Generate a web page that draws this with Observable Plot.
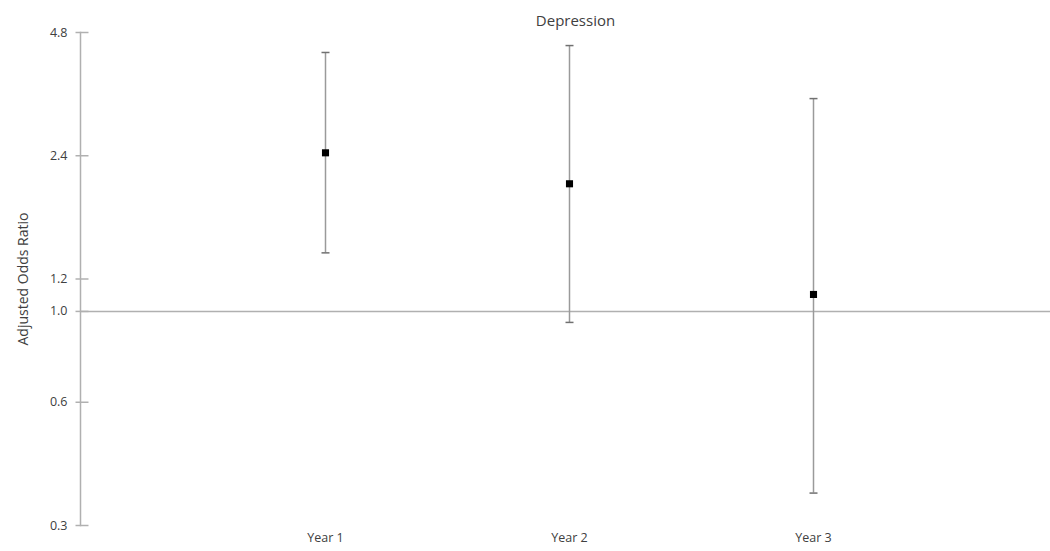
<!DOCTYPE html>
<html>
<head>
<meta charset="utf-8">
<script src="https://cdn.jsdelivr.net/npm/d3@7"></script>
<script src="https://cdn.jsdelivr.net/npm/@observablehq/plot@0.6"></script>
<style>
  html, body { margin: 0; padding: 0; background: #fff; }
  #chart svg { display: block; }
</style>
</head>
<body>
<div id="chart"></div>
<script>
// Data
const years = ["Year 1", "Year 2", "Year 3"];
const oddsRatio = [2.44, 2.05, 1.10];
const lowerCI = [1.39, 0.94, 0.36];
const upperCI = [4.29, 4.46, 3.31];
const yTickValues = [0.3, 0.6, 1.0, 1.2, 2.4, 4.8];
const titleText = "Depression";
const yLabel = "Adjusted Odds Ratio";

const rows = years.map((y, i) => ({year: y, or: oddsRatio[i], lo: lowerCI[i], hi: upperCI[i]}));

// horizontal cap symbol
const capSymbol = {
  draw(ctx, size) {
    const r = Math.sqrt(size / Math.PI);
    ctx.moveTo(-r, 0);
    ctx.lineTo(r, 0);
  }
};
// y-axis tick that crosses the axis line
const axisTickSymbol = {
  draw(ctx, size) {
    ctx.moveTo(-5, 0);
    ctx.lineTo(8, 0);
  }
};

const chart = Plot.plot({
  width: 1050,
  height: 551,
  marginLeft: 80,
  marginRight: 0,
  marginTop: 32,
  marginBottom: 26,
  style: {fontFamily: "'Open Sans', sans-serif", fontSize: "12px", color: "#404040", background: "#fff"},
  x: {type: "point", domain: years, padding: 1, range: [81, 1057]},
  y: {type: "log", domain: [0.3, 4.8]},
  marks: [
    Plot.ruleY([1], {stroke: "#b0b0b0", strokeWidth: 1.5}),
    Plot.frame({anchor: "left", stroke: "#b0b0b0", strokeWidth: 1.5}),
    Plot.dot(yTickValues, {y: d => d, frameAnchor: "left", symbol: axisTickSymbol, r: 1, stroke: "#b0b0b0", strokeWidth: 1.5}),
    Plot.axisY({
      ticks: yTickValues, tickFormat: d3.format(".1f"), tickSize: 0, tickPadding: 13,
      label: null, fontSize: 12.5
    }),
    Plot.axisY({
      ticks: [], tickSize: 0,
      label: yLabel, labelAnchor: "center", labelOffset: 62, labelArrow: false,
      fontSize: 14
    }),
    Plot.axisX({tickSize: 0, tickPadding: 8, label: null, fontSize: 12.5}),
    Plot.ruleX(rows, {x: "year", y1: "lo", y2: "hi", stroke: "#9a9a9a", strokeWidth: 1.5}),
    Plot.dot(rows, {x: "year", y: "hi", symbol: capSymbol, r: 4, stroke: "#707070", strokeWidth: 1.5}),
    Plot.dot(rows, {x: "year", y: "lo", symbol: capSymbol, r: 4, stroke: "#707070", strokeWidth: 1.5}),
    Plot.dot(rows, {x: "year", y: "or", symbol: "square", r: 4, fill: "black", stroke: "none"}),
    Plot.text([titleText], {frameAnchor: "top", dx: 10, dy: -17, fontSize: 15, fill: "#404040"})
  ]
});
document.getElementById("chart").appendChild(chart);
</script>
</body>
</html>
